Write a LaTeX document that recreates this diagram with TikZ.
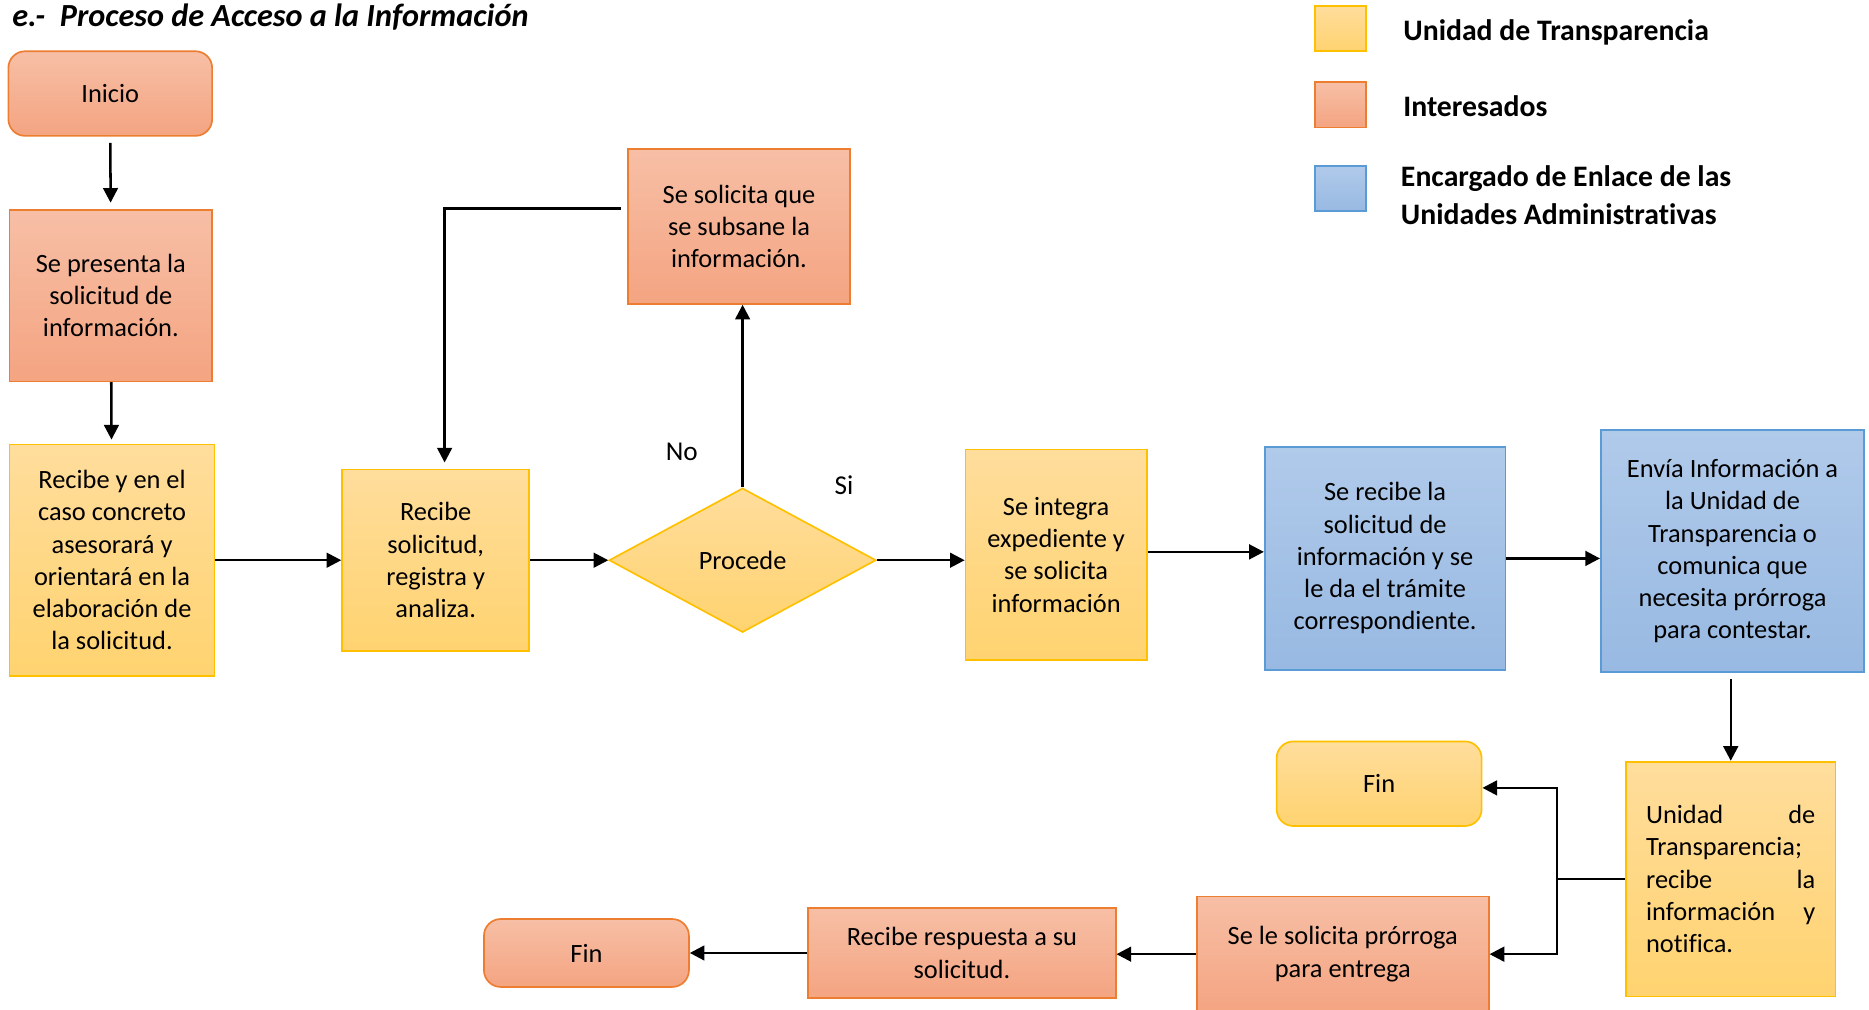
\documentclass[tikz,border=0pt]{standalone}
\usepackage{fontspec}
\setmainfont{Carlito}[Ligatures={NoCommon}]
\usepackage{tikz}
\usetikzlibrary{arrows.meta,shapes.geometric,positioning}
\definecolor{orangetop}{HTML}{F7BFA6}
\definecolor{orangebot}{HTML}{F4A481}
\definecolor{orangeline}{HTML}{ED7D31}
\definecolor{yellowtop}{HTML}{FFDD9C}
\definecolor{yellowbot}{HTML}{FFD370}
\definecolor{yellowline}{HTML}{FFC000}
\definecolor{bluetop}{HTML}{B0CAEA}
\definecolor{bluebot}{HTML}{98B9E2}
\definecolor{blueline}{HTML}{5B9BD5}
\newcommand{\cuerpo}{\fontsize{12.6}{15.4}\selectfont}
\newcommand{\leyenda}{\fontsize{14.2}{18.2}\selectfont\bfseries}
\tikzset{
  interesado/.style={draw=orangeline, line width=0.8pt, top color=orangetop, bottom color=orangebot, align=center, font=\cuerpo, inner sep=2pt},
  transparencia/.style={draw=yellowline, line width=0.8pt, top color=yellowtop, bottom color=yellowbot, align=center, font=\cuerpo, inner sep=2pt},
  enlace/.style={draw=blueline, line width=0.8pt, top color=bluetop, bottom color=bluebot, align=center, font=\cuerpo, inner sep=2pt},
  terminal/.style={rounded corners=8pt},
  flecha/.style={draw=black, line width=1.2pt, -{Triangle[length=7pt,width=7pt]}},
  linea/.style={draw=black, line width=1.2pt},
  lab/.style={font=\fontsize{13}{15}\selectfont},
  leg/.style={font=\leyenda, align=left, anchor=west, inner sep=0pt},
}

\begin{document}
\begin{tikzpicture}[x=0.02cm, y=-0.02cm]
  \useasboundingbox (0,0) rectangle (1568,847);

  \node[anchor=base west, inner sep=0pt, font=\fontsize{15.4}{18}\selectfont\bfseries\itshape] (titulo) at (10,22) {e.-\ \ Proceso de Acceso a la Información};

  % leyenda
  \node[transparencia, minimum width=0.86cm, minimum height=0.76cm] (legT) at (1124.5,24) {};
  \node[interesado, minimum width=0.86cm, minimum height=0.76cm] (legI) at (1124.5,88) {};
  \node[enlace, minimum width=0.86cm, minimum height=0.76cm] (legE) at (1124.5,158) {};
  \node[leg] (legTtxt) at (1177,27) {Unidad de Transparencia};
  \node[leg] (legItxt) at (1177,89) {Interesados};
  \node[leg] (legEtxt) at (1175,164) {Encargado de Enlace de las\\Unidades Administrativas};

  % nodos
  \node[interesado, terminal, minimum width=3.42cm, minimum height=1.42cm] (inicio) at (92.5,78.5) {Inicio};
  \node[interesado, minimum width=3.4cm, minimum height=2.88cm] (presenta) at (93,248) {Se presenta la\\solicitud de\\información.};
  \node[transparencia, minimum width=3.44cm, minimum height=3.88cm] (asesora) at (94,470) {Recibe y en el\\caso concreto\\asesorará y\\orientará en la\\elaboración de\\la solicitud.};
  \node[transparencia, minimum width=3.14cm, minimum height=3.04cm] (registra) at (365.5,470) {Recibe\\solicitud,\\registra y\\analiza.};
  \node[transparencia, diamond, inner sep=0pt, minimum width=4.48cm, minimum height=2.42cm] (procede) at (623,470) {Procede};
  \node[interesado, minimum width=3.72cm, minimum height=2.6cm] (subsana) at (620,190) {Se solicita que\\se subsane la\\información.};
  \node[transparencia, minimum width=3.04cm, minimum height=3.54cm] (integra) at (886,465.5) {Se integra\\expediente y\\se solicita\\información};
  \node[enlace, minimum width=4.04cm, minimum height=3.74cm] (tramite) at (1162,468.5) {Se recibe la\\solicitud de\\información y se\\le da el trámite\\correspondiente.};
  \node[enlace, minimum width=4.42cm, minimum height=4.06cm] (envia) at (1453.5,462.5) {Envía Información a\\la Unidad de\\Transparencia o\\comunica que\\necesita prórroga\\para contestar.};
  \node[transparencia, align=left, text width=2.84cm, minimum width=3.52cm, minimum height=3.94cm] (notifica) at (1452,737.5) {Unidad\hfill de\\Transparencia;\\recibe\hfill la\\información\hfill y\\notifica.};
  \node[transparencia, terminal, minimum width=3.44cm, minimum height=1.42cm] (finT) at (1157,657.5) {Fin};
  \node[interesado, minimum width=4.9cm, minimum height=1.94cm] (prorroga) at (1126.5,800.5) {Se le solicita prórroga\\para entrega};
  \node[interesado, minimum width=5.16cm, minimum height=1.5cm] (respuesta) at (807,799.5) {Recibe respuesta a su\\solicitud.};
  \node[interesado, terminal, minimum width=3.44cm, minimum height=1.14cm] (finI) at (492,799.5) {Fin};

  \node[lab] (no) at (572,379) {No};
  \node[lab] (si) at (708,407) {Si};

  % conectores
  \draw[flecha, shorten <=3pt, shorten >=3pt] (inicio) -- (presenta);
  \draw[flecha, shorten >=2pt] (presenta) -- (asesora);
  \draw[flecha] (asesora.east) -- (registra.west);
  \draw[flecha] (registra.east) -- (procede.west);
  \draw[flecha] (procede.east) -- (procede.east -| integra.west);
  \draw[flecha] (procede.north) -- (procede.north |- subsana.south);
  \draw[flecha, shorten <=3pt, shorten >=3pt] ([yshift=0.3cm]subsana.west) -| ([xshift=0.15cm]registra.north);
  \draw[flecha] ([yshift=0.05cm]integra.east) -- ([yshift=0.05cm]integra.east -| tramite.west);
  \draw[flecha] (tramite.east) -- (tramite.east -| envia.west);
  \draw[flecha, shorten <=3pt] (envia.south -| notifica.north) -- (notifica.north);
  \coordinate[left=1.14cm of notifica.west] (reparto);
  \draw[linea] (notifica.west) -- (reparto);
  \draw[flecha] (reparto) |- ([yshift=-0.07cm]finT.east);
  \draw[flecha] (reparto) |- (prorroga.east);
  \draw[flecha] (prorroga.west) -- (prorroga.west -| respuesta.east);
  \draw[flecha] (respuesta.west) -- (respuesta.west -| finI.east);
\end{tikzpicture}
\end{document}
